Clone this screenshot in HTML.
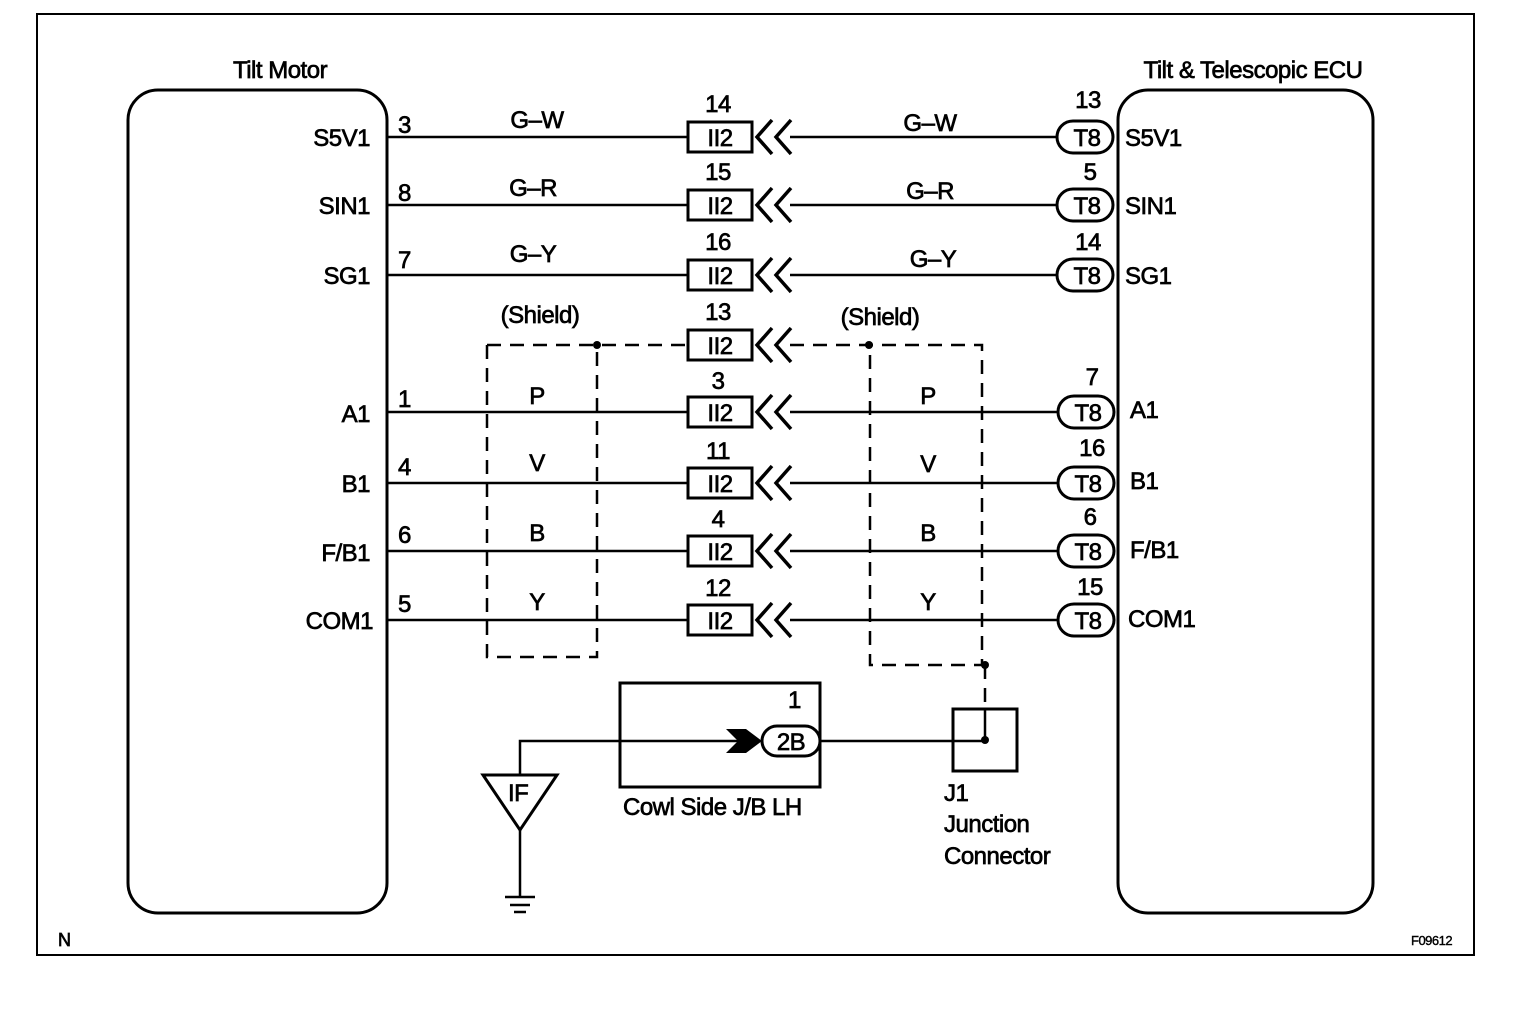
<!DOCTYPE html>
<html><head><meta charset="utf-8"><style>
html,body{margin:0;padding:0;background:#fff}
svg{display:block}
text{font-family:"Liberation Sans",Arial,sans-serif;font-size:24px;fill:#000;stroke:#000;stroke-width:0.7px;letter-spacing:-0.5px}
</style></head><body>
<svg width="1520" height="1016" viewBox="0 0 1520 1016" xmlns="http://www.w3.org/2000/svg">
<g fill="none" stroke="#000">
<rect x="37" y="14" width="1437" height="941" stroke-width="2"/>
<rect x="128" y="90" width="259" height="823" rx="30" stroke-width="3"/>
<rect x="1118" y="90" width="255" height="823" rx="30" stroke-width="3"/>
</g>
<text x="280" y="78" text-anchor="middle">Tilt Motor</text>
<text x="1253" y="78" text-anchor="middle">Tilt &amp; Telescopic ECU</text>

<g stroke="#000" stroke-width="2.5">
<line x1="387" y1="137" x2="688" y2="137"/><line x1="790" y1="137" x2="1057" y2="137"/>
<line x1="387" y1="205" x2="688" y2="205"/><line x1="790" y1="205" x2="1057" y2="205"/>
<line x1="387" y1="275" x2="688" y2="275"/><line x1="790" y1="275" x2="1057" y2="275"/>
<line x1="387" y1="412" x2="688" y2="412"/><line x1="790" y1="412" x2="1057" y2="412"/>
<line x1="387" y1="483" x2="688" y2="483"/><line x1="790" y1="483" x2="1057" y2="483"/>
<line x1="387" y1="551" x2="688" y2="551"/><line x1="790" y1="551" x2="1057" y2="551"/>
<line x1="387" y1="620" x2="688" y2="620"/><line x1="790" y1="620" x2="1057" y2="620"/>
</g>
<g stroke="#000" stroke-width="2.5" stroke-dasharray="14,9" fill="none">
<path d="M487 345 H688"/>
<path d="M790 345 H982 V665 H870 V345"/>
<path d="M487 345 V657 H597 V345"/>
<path d="M985 665 V709"/>
</g>
<g fill="#000">
<circle cx="597" cy="345" r="4"/><circle cx="869" cy="345" r="4"/>
<circle cx="985" cy="665" r="4"/><circle cx="985" cy="740" r="4"/>
</g>

<g fill="#fff" stroke="#000" stroke-width="3">
<rect x="688" y="122" width="64" height="30"/>
<rect x="688" y="190" width="64" height="30"/>
<rect x="688" y="260" width="64" height="30"/>
<rect x="688" y="330" width="64" height="30"/>
<rect x="688" y="397" width="64" height="30"/>
<rect x="688" y="468" width="64" height="30"/>
<rect x="688" y="536" width="64" height="30"/>
<rect x="688" y="605" width="64" height="30"/>
</g>
<g fill="none" stroke="#000" stroke-width="3.5">
<path d="M772 120 L757 137 L772 154 M791 120 L776 137 L791 154"/>
<path d="M772 188 L757 205 L772 222 M791 188 L776 205 L791 222"/>
<path d="M772 258 L757 275 L772 292 M791 258 L776 275 L791 292"/>
<path d="M772 328 L757 345 L772 362 M791 328 L776 345 L791 362"/>
<path d="M772 395 L757 412 L772 429 M791 395 L776 412 L791 429"/>
<path d="M772 466 L757 483 L772 500 M791 466 L776 483 L791 500"/>
<path d="M772 534 L757 551 L772 568 M791 534 L776 551 L791 568"/>
<path d="M772 603 L757 620 L772 637 M791 603 L776 620 L791 637"/>
</g>
<g text-anchor="middle">
<text x="720" y="146">II2</text><text x="718" y="112">14</text>
<text x="720" y="214">II2</text><text x="718" y="180">15</text>
<text x="720" y="284">II2</text><text x="718" y="250">16</text>
<text x="720" y="354">II2</text><text x="718" y="320">13</text>
<text x="720" y="421">II2</text><text x="718" y="389">3</text>
<text x="720" y="492">II2</text><text x="718" y="459">11</text>
<text x="720" y="560">II2</text><text x="718" y="527">4</text>
<text x="720" y="629">II2</text><text x="718" y="596">12</text>
</g>

<g fill="#fff" stroke="#000" stroke-width="3">
<rect x="1057" y="121" width="56" height="32" rx="16"/>
<rect x="1057" y="189" width="56" height="32" rx="16"/>
<rect x="1057" y="259" width="56" height="32" rx="16"/>
<rect x="1058" y="396" width="56" height="32" rx="16"/>
<rect x="1058" y="467" width="56" height="32" rx="16"/>
<rect x="1058" y="535" width="56" height="32" rx="16"/>
<rect x="1058" y="604" width="56" height="32" rx="16"/>
</g>
<g text-anchor="middle">
<text x="1087" y="146">T8</text><text x="1088" y="108">13</text>
<text x="1087" y="214">T8</text><text x="1090" y="180">5</text>
<text x="1087" y="284">T8</text><text x="1088" y="250">14</text>
<text x="1088" y="421">T8</text><text x="1092" y="385">7</text>
<text x="1088" y="492">T8</text><text x="1092" y="456">16</text>
<text x="1088" y="560">T8</text><text x="1090" y="525">6</text>
<text x="1088" y="629">T8</text><text x="1090" y="595">15</text>
</g>

<g text-anchor="end">
<text x="370" y="146">S5V1</text><text x="370" y="214">SIN1</text><text x="370" y="284">SG1</text>
<text x="370" y="422">A1</text><text x="370" y="492">B1</text><text x="370" y="561">F/B1</text><text x="373" y="629">COM1</text>
</g>
<g>
<text x="398" y="133">3</text><text x="398" y="201">8</text><text x="398" y="268">7</text>
<text x="398" y="407">1</text><text x="398" y="475">4</text><text x="398" y="543">6</text><text x="398" y="612">5</text>
</g>
<g text-anchor="middle">
<text x="537" y="128">G–W</text><text x="533" y="196">G–R</text><text x="533" y="262">G–Y</text>
<text x="540" y="323">(Shield)</text>
<text x="537" y="404">P</text><text x="537" y="471">V</text><text x="537" y="541">B</text><text x="537" y="610">Y</text>
<text x="930" y="131">G–W</text><text x="930" y="199">G–R</text><text x="933" y="267">G–Y</text>
<text x="880" y="325">(Shield)</text>
<text x="928" y="404">P</text><text x="928" y="472">V</text><text x="928" y="541">B</text><text x="928" y="610">Y</text>
</g>
<g>
<text x="1125" y="146">S5V1</text><text x="1125" y="214">SIN1</text><text x="1125" y="284">SG1</text>
<text x="1130" y="418">A1</text><text x="1130" y="489">B1</text><text x="1130" y="558">F/B1</text><text x="1128" y="627">COM1</text>
</g>

<g fill="none" stroke="#000">
<rect x="620" y="683" width="200" height="104" stroke-width="3"/>
<rect x="953" y="709" width="64" height="62" stroke-width="3"/>
<line x1="985" y1="709" x2="985" y2="740" stroke-width="2.5"/>
<path d="M520 775 V741 H740" stroke-width="2.5"/>
<line x1="820" y1="741" x2="985" y2="741" stroke-width="2.5"/>
<polygon points="483,775 557,775 520,830" stroke-width="3"/>
<line x1="520" y1="830" x2="520" y2="896" stroke-width="2.5"/>
<line x1="505" y1="897" x2="535" y2="897" stroke-width="2.5"/>
<line x1="510" y1="905" x2="530" y2="905" stroke-width="2.5"/>
<line x1="514" y1="912" x2="526" y2="912" stroke-width="2.5"/>
</g>
<polygon points="726,729 746,729 762,741 746,753 726,753 738,741" fill="#000"/>
<rect x="762" y="726" width="58" height="30" rx="15" fill="#fff" stroke="#000" stroke-width="3"/>
<text x="791" y="750" text-anchor="middle">2B</text>
<text x="788" y="708">1</text>
<text x="508" y="801">IF</text>
<text x="623" y="815">Cowl Side J/B LH</text>
<text x="944" y="801">J1</text>
<text x="944" y="832">Junction</text>
<text x="944" y="864">Connector</text>
<text x="58" y="946" style="font-size:18px">N</text>
<text x="1411" y="945" style="font-size:13px;stroke-width:0.4px">F09612</text>
</svg>
</body></html>
